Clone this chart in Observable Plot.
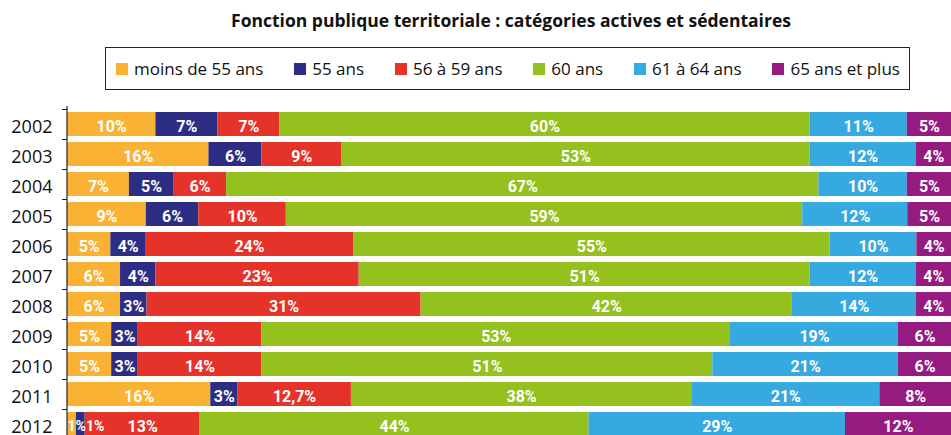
<!DOCTYPE html>
<html><head><meta charset="utf-8">
<script src="https://cdn.jsdelivr.net/npm/d3@7"></script>
<script src="https://cdn.jsdelivr.net/npm/@observablehq/plot@0.6"></script>
<style>
body{margin:0;background:#fff;overflow:hidden;width:951px;height:435px;position:relative;}
#title{position:absolute;left:0;width:1022px;top:8px;text-align:center;font:bold 17.5px "Open Sans",sans-serif;color:#111;white-space:nowrap;}
#legend{position:absolute;left:105px;top:47px;display:flex;align-items:center;justify-content:space-between;padding:0 9px 0 10px;box-sizing:border-box;width:805px;height:43px;border:1.5px solid #222;font:17px "Open Sans",sans-serif;color:#111;white-space:nowrap;}
.item{display:flex;align-items:center;flex-shrink:0;}
.sw{width:12px;height:12px;margin-right:6px;}
#chart{position:absolute;left:0;top:100px;}
</style></head><body>
<div id="title">Fonction publique territoriale : catégories actives et sédentaires</div>
<div id="legend"></div>
<div id="chart"></div>
<script>
const years = ["2002","2003","2004","2005","2006","2007","2008","2009","2010","2011","2012"];
const categories = ["moins de 55 ans","55 ans","56 à 59 ans","60 ans","61 à 64 ans","65 ans et plus"];
const colors = ["#F9B233","#2D2E83","#E6332A","#95C11F","#36A9E1","#951B81"];
const moins55 = [10,16,7,9,5,6,6,5,5,16,1];
const ans55   = [7,6,5,6,4,4,3,3,3,3,1];
const ans56_59 = [7,9,6,10,24,23,31,14,14,12.7,13];
const ans60   = [60,53,67,59,55,51,42,53,51,38,44];
const ans61_64 = [11,12,10,12,10,12,14,19,21,21,29];
const ans65   = [5,4,5,5,4,4,4,6,6,8,12];
const series = [moins55, ans55, ans56_59, ans60, ans61_64, ans65];

const data = [];
years.forEach((y, i) => categories.forEach((c, j) => data.push({year: y, cat: c, idx: j, value: series[j][i]})));
const fmt = v => String(v).replace(".", ",") + "%";
const tiny = v => v < 2;
// consecutive tiny segments of a year share one label, written from the first one
function tinyLabel(d) {
  if (!tiny(d.value)) return null;
  const row = data.filter(e => e.year === d.year);
  if (d.idx > 0 && tiny(row[d.idx - 1].value)) return null;
  let s = "";
  for (let k = d.idx; k < row.length && tiny(row[k].value); k++) s += fmt(row[k].value);
  return s;
}

// legend
const lg = document.getElementById("legend");
categories.forEach((c, j) => {
  const it = document.createElement("div"); it.className = "item";
  const sw = document.createElement("div"); sw.className = "sw"; sw.style.background = colors[j];
  const tx = document.createElement("span"); tx.textContent = c;
  it.appendChild(sw); it.appendChild(tx); lg.appendChild(it);
});

const labelFont = {fill: "white", fontWeight: "bold", dy: 2.5, fontFamily: "Roboto, sans-serif"};
const chart = Plot.plot({
  width: 951, height: 342,
  marginLeft: 67, marginRight: 0, marginTop: 6, marginBottom: 0,
  style: {fontFamily: "'Open Sans', sans-serif", background: "white"},
  x: {axis: null, domain: [0, 1]},
  y: {domain: years, paddingInner: 0.2, paddingOuter: 0.2, round: false, label: null, axis: null},
  color: {domain: categories, range: colors},
  marks: [
    Plot.barX(data, Plot.stackX({x: "value", y: "year", fill: "cat", offset: "normalize"})),
    Plot.text(data, Plot.stackX({x: "value", y: "year", z: "cat", offset: "normalize",
      text: d => tiny(d.value) ? null : fmt(d.value), fontSize: 16, ...labelFont})),
    Plot.text(data, Plot.stackX1({x: "value", y: "year", z: "cat", offset: "normalize",
      text: tinyLabel, textAnchor: "start", fontSize: 14, ...labelFont})),
    Plot.axisY({tickSize: 0, tickPadding: 15, fontSize: 18, dy: 3, fill: "#111", label: null}),
    Plot.axisY({tickSize: 5, dy: -15, text: null, label: null, stroke: "#222"}),
    Plot.ruleX([0], {dx: -0.5, stroke: "#222", strokeWidth: 1.2})
  ]
});
document.getElementById("chart").appendChild(chart);
</script>
</body></html>
